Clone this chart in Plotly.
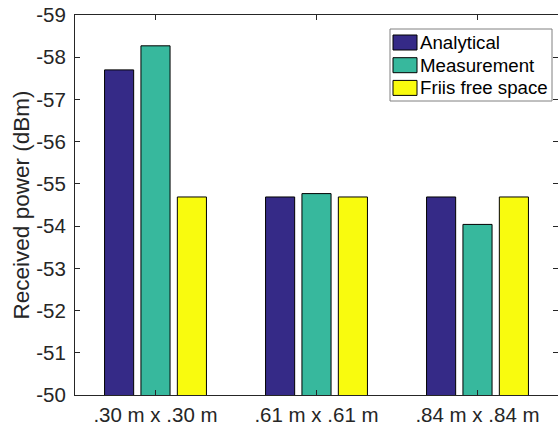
import plotly.graph_objects as go

categories = [".30 m x .30 m", ".61 m x .61 m", ".84 m x .84 m"]
analytical = [-57.70, -54.69, -54.69]
measurement = [-58.27, -54.77, -54.04]
friis = [-54.69, -54.69, -54.69]
series_names = ["Analytical", "Measurement", "Friis free space"]
y_tickvals = [-59, -58, -57, -56, -55, -54, -53, -52, -51, -50]
y_ticktext = ["-59", "-58", "-57", "-56", "-55", "-54", "-53", "-52", "-51", "-50"]

colors = ["#352a87", "#37b89d", "#f9fb0e"]
FONT = "Liberation Sans, Arial, Helvetica, sans-serif"
AX = "#262626"

W, H = 558, 426
ML, MR, MT, MB = 75, 0, 15, 31
PW, PH = W - ML - MR, H - MT - MB


def px(x):
    return (x - ML) / PW


def py(y):
    return (H - MB - y) / PH


fig = go.Figure()
for name, vals, col in zip(series_names, [analytical, measurement, friis], colors):
    fig.add_trace(go.Bar(
        x=[1, 2, 3], y=vals, name=name,
        marker=dict(color=col, line=dict(color="#000000", width=1)),
    ))

# legend box (drawn like MATLAB's legend)
shapes = [dict(type="rect", xref="paper", yref="paper",
               x0=px(390), x1=px(552), y0=py(101), y1=py(29),
               fillcolor="white", line=dict(color="#808080", width=1), layer="above")]
annotations = []
row_top = 35
row_step = 22.7
for i, (name, col) in enumerate(zip(series_names, colors)):
    top = row_top + i * row_step
    shapes.append(dict(type="rect", xref="paper", yref="paper",
                       x0=px(393), x1=px(417), y0=py(top + 15), y1=py(top),
                       fillcolor=col, line=dict(color="#000000", width=1), layer="above"))
    annotations.append(dict(xref="paper", yref="paper", x=px(418), y=py(top + 7.5),
                            xanchor="left", yanchor="middle", text=name, showarrow=False,
                            font=dict(family=FONT, size=18.7, color="#000000")))

fig.update_layout(
    width=W, height=H,
    margin=dict(l=ML, r=MR, t=MT, b=MB, autoexpand=False),
    paper_bgcolor="white", plot_bgcolor="white",
    barmode="group", bargap=0.322, bargroupgap=0.2,
    font=dict(family=FONT, size=20.5, color=AX),
    showlegend=False,
    shapes=shapes,
    annotations=annotations,
    xaxis=dict(
        range=[0.5, 3.5], tickvals=[1, 2, 3], ticktext=categories,
        ticks="inside", ticklen=5, tickcolor=AX, tickwidth=1,
        showline=True, linecolor=AX, linewidth=1, mirror="allticks",
        showgrid=False, zeroline=False, automargin=False,
        tickfont=dict(size=20.5, color=AX), ticklabelstandoff=1,
    ),
    yaxis=dict(
        range=[-50, -59], tickvals=y_tickvals, ticktext=y_ticktext,
        ticks="inside", ticklen=5, tickcolor=AX, tickwidth=1,
        showline=True, linecolor=AX, linewidth=1, mirror="allticks",
        showgrid=False, zeroline=False, automargin=False,
        tickfont=dict(size=20.5, color=AX), ticklabelstandoff=4,
        title=dict(text="Received power (dBm)", font=dict(size=22.5, color=AX), standoff=0),
    ),
)

fig.write_html("out.html", config={"displayModeBar": False},
               post_script="document.body.style.margin='0';document.body.style.overflow='hidden';")
